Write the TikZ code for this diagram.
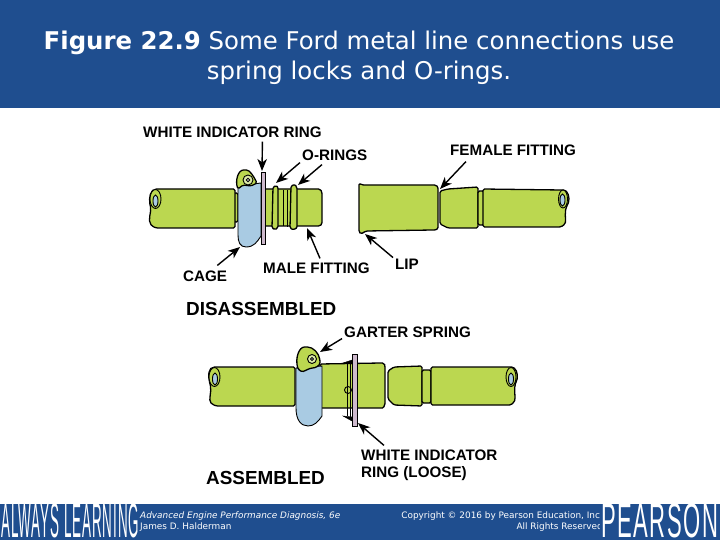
\documentclass[tikz,border=0pt]{standalone}
\usepackage{fontspec}
\setmainfont{DejaVu Sans}
\newfontfamily\lblfont{Liberation Sans}
\newfontfamily\bandfont[LetterSpace=7]{Liberation Sans}
\usepackage{xcolor}
\usetikzlibrary{arrows.meta,positioning,calc}

\definecolor{barblue}{HTML}{1F4E8F}
\definecolor{fitgreen}{HTML}{BBD750}
\definecolor{cageblue}{HTML}{A9CBE3}
\definecolor{ringgrey}{HTML}{CDB9CC}

\begin{document}
\begin{tikzpicture}[
  x=1pt, y=-1pt,
  part/.style={draw=black, line width=1.3pt, fill=fitgreen, rounded corners=1.5pt, line join=round},
  cage/.style={draw=black, line width=0.9pt, fill=cageblue, line join=round},
  ring/.style={draw=black, line width=0.9pt, fill=ringgrey},
  hole/.style={draw=black, line width=0.9pt, fill=cageblue},
  lbl/.style={font=\lblfont\bfseries\fontsize{15.2}{17}\selectfont, text=black, inner sep=0pt, anchor=west, align=left},
  head/.style={font=\lblfont\bfseries\fontsize{18.9}{22}\selectfont, text=black, inner sep=0pt, anchor=west},
  foot/.style={font=\fontsize{8.9}{11}\selectfont, text=white, inner sep=0pt},
  arr/.style={-{Stealth[length=12pt,width=9.5pt,inset=3.5pt]}, line width=1.4pt}
]
\useasboundingbox (0,0) rectangle (720,540);

% bars
\fill[barblue] (0,0) rectangle (720,108);
\fill[barblue] (0,504) rectangle (720,540);

% title
\node[text=white, inner sep=0pt, align=center, font=\fontsize{24.4}{30}\selectfont] (title) at (359,58)
  {\textbf{Figure 22.9} Some Ford metal line connections use\\spring locks and O-rings.};

% footer
\node[foot, anchor=west] (book) at (140,516) {\itshape Advanced Engine Performance Diagnosis, 6e};
\node[foot, anchor=west] (auth) at (140,527) {James D. Halderman};
\node[foot, anchor=east] (copy1) at (603,516) {Copyright © 2016 by Pearson Education, Inc.};
\node[foot, anchor=east] (copy2) at (603,527) {All Rights Reserved};
\fill[barblue] (600,504) rectangle (720,540);
\node[inner sep=0pt, anchor=south west, text=white] (always) at (1,538.5)
  {\resizebox{138pt}{34pt}{\bandfont ALWAYS LEARNING}};
\node[inner sep=0pt, anchor=south west, text=white] (pearson) at (601,538.5)
  {\resizebox{117pt}{34pt}{\bandfont PEARSON}};

% DISASSEMBLED: male side
\draw[part] (238,193) -- (238,222) -- (234,222) -- (234,193) -- cycle;
\draw[part] (235,189) -- (158,189) .. controls (150,189) and (149,198) .. (150,205)
  .. controls (152,212) and (147,220) .. (152,226) -- (156,228) -- (235,228) -- cycle;
\draw[hole, fill=fitgreen] (155.5,199) ellipse (5.5 and 9.5);
\draw[hole] (155.5,201) ellipse (2.5 and 6);
\draw[part] (264,189) -- (320,189) -- (322,192) -- (322,224) -- (320,226) -- (264,226) -- cycle;
\draw[part] (273,187) .. controls (277,185) and (278,187) .. (278,190) -- (278,225)
  .. controls (278,229) and (275,230) .. (272,228) -- cycle;
\draw[part] (291,186) .. controls (295,184) and (297,186) .. (297,190) -- (297,225)
  .. controls (297,229) and (293,230) .. (290,228) -- cycle;
\draw[black, line width=1pt] (283,190) -- (283,226) (287,190) -- (287,227);
\draw[cage] (238,186) -- (261,183) -- (261,236) .. controls (257,242) and (254,247) .. (246,247)
  .. controls (240,247) and (238,242) .. (238,235) -- cycle;
\draw[part] (238,189) .. controls (235,181) and (238,170) .. (245,170)
  .. controls (250,170) and (254,177) .. (257,183) -- (251,186) -- (243,185) -- cycle;
\draw[hole, fill=fitgreen!50!white] (248,180) circle (5);
\draw[hole, fill=white] (248,180) circle (1.8);
\draw[ring] (261,172) rectangle (265,244);

% DISASSEMBLED: female side
\draw[part] (359,183) -- (362,185) -- (433,185) .. controls (437,185) and (438,187) .. (438,190)
  -- (438,226) .. controls (438,229) and (436,230) .. (433,230) -- (366,231) -- (361,234) -- (359,232) -- cycle;
\draw[part] (440,191) -- (448,189) -- (478,187) -- (478,228) -- (448,228) -- (440,224) -- cycle;
\draw[part] (478,191) rectangle (484,225);
\draw[part] (483,189) -- (562,190) .. controls (568,190) and (570,198) .. (568,204)
  .. controls (564,210) and (566,220) .. (565,224) -- (561,227) -- (483,227) -- cycle;
\draw[hole, fill=fitgreen] (563,199) ellipse (4.5 and 9);
\draw[hole] (562.5,200) ellipse (2.5 and 6);

% ASSEMBLED
\draw[part] (295,367) -- (216,367) .. controls (208,367) and (208,376) .. (210,384)
  .. controls (212,392) and (208,400) .. (212,404) -- (216,406) -- (295,406) -- cycle;
\draw[hole, fill=fitgreen] (214.5,377) ellipse (5.5 and 9.5);
\draw[hole] (215,379) ellipse (2.5 and 6);
\draw[part] (320,364) -- (381,363) .. controls (385,363) and (385,366) .. (385,369)
  -- (385,402) .. controls (385,406) and (383,408) .. (381,408) -- (320,408) -- cycle;
\draw[part] (388,371) -- (394,367) -- (422,366) -- (422,406) -- (394,405) -- (388,399) -- cycle;
\draw[part] (422,370) rectangle (431,403);
\draw[part] (431,367) -- (510,367) .. controls (516,367) and (518,374) .. (517,380)
  .. controls (513,388) and (516,398) .. (514,402) -- (511,405) -- (431,405) -- cycle;
\draw[hole, fill=fitgreen] (511,377) ellipse (5 and 9.5);
\draw[hole] (511,379) ellipse (2.5 and 6);
\draw[cage] (296,368) -- (322,366) -- (322,416) .. controls (318,422) and (314,426) .. (308,426)
  .. controls (301,426) and (296,420) .. (296,408) -- cycle;
\draw[part] (298,369) .. controls (295,358) and (299,347) .. (306,347)
  .. controls (313,347) and (319,353) .. (320,361) .. controls (320,366) and (315,368) .. (311,368) -- (302,372) -- cycle;
\draw[hole, fill=fitgreen!50!white] (312,359) circle (4.5);
\draw[hole, fill=white] (312,359) circle (1.6);
\draw[black, fill=black] (343,363) -- (352,360) -- (352,364) -- cycle;
\draw[black, line width=0.9pt, fill=fitgreen] (348,390) circle (3.5);
\draw[black, fill=black] (343,416) -- (352,417) -- (352,421) -- cycle;
\draw[black, line width=0.9pt] (347,364) -- (347,416) (350,362) -- (350,418);
\draw[ring] (352,354) rectangle (357,426);

% labels
\node[lbl] (whitering) at (143,132) {WHITE INDICATOR RING};
\node[lbl] (orings) at (302,155) {O-RINGS};
\node[lbl] (female) at (450,150) {FEMALE FITTING};
\node[lbl] (cagelbl) at (183,276) {CAGE};
\node[lbl] (male) at (263,268) {MALE FITTING};
\node[lbl] (lip) at (395,264) {LIP};
\node[head] (disasm) at (186,309) {DISASSEMBLED};
\node[lbl] (garter) at (344,332) {GARTER SPRING};
\node[lbl] (looselbl) at (361,465) {WHITE INDICATOR\\RING (LOOSE)};
\node[head] (asm) at (206,478) {ASSEMBLED};

% arrow tips on the fittings
\coordinate (tipring) at (262,171);
\coordinate (tipo1) at (276,183);
\coordinate (tipo2) at (298,185);
\coordinate (tipcage) at (240,247);
\coordinate (tipmale) at (307,228);
\coordinate (tiplip) at (365,234);
\coordinate (tipfemale) at (440,189);
\coordinate (tipgarter) at (320,352);
\coordinate (tiploose) at (358,423);

\draw[arr] ([xshift=30pt,yshift=-4pt]whitering.south) -- (tipring);
\draw[arr] ([xshift=-2pt,yshift=-2pt]orings.south west) -- (tipo1);
\draw[arr] ([xshift=20pt,yshift=-4pt]orings.south west) -- (tipo2);
\draw[arr] ([xshift=16pt,yshift=-6pt]female.south west) -- (tipfemale);
\draw[arr] ([xshift=-10pt,yshift=5pt]cagelbl.north east) -- (tipcage);
\draw[arr] ([xshift=57pt,yshift=4pt]male.north west) -- (tipmale);
\draw[arr] ([xshift=-2pt,yshift=1pt]lip.north west) -- (tiplip);
\draw[arr] ([xshift=-2pt,yshift=-1pt]garter.south west) -- (tipgarter);
\draw[arr] ([xshift=23pt,yshift=4pt]looselbl.north west) -- (tiploose);
\end{tikzpicture}
\end{document}
